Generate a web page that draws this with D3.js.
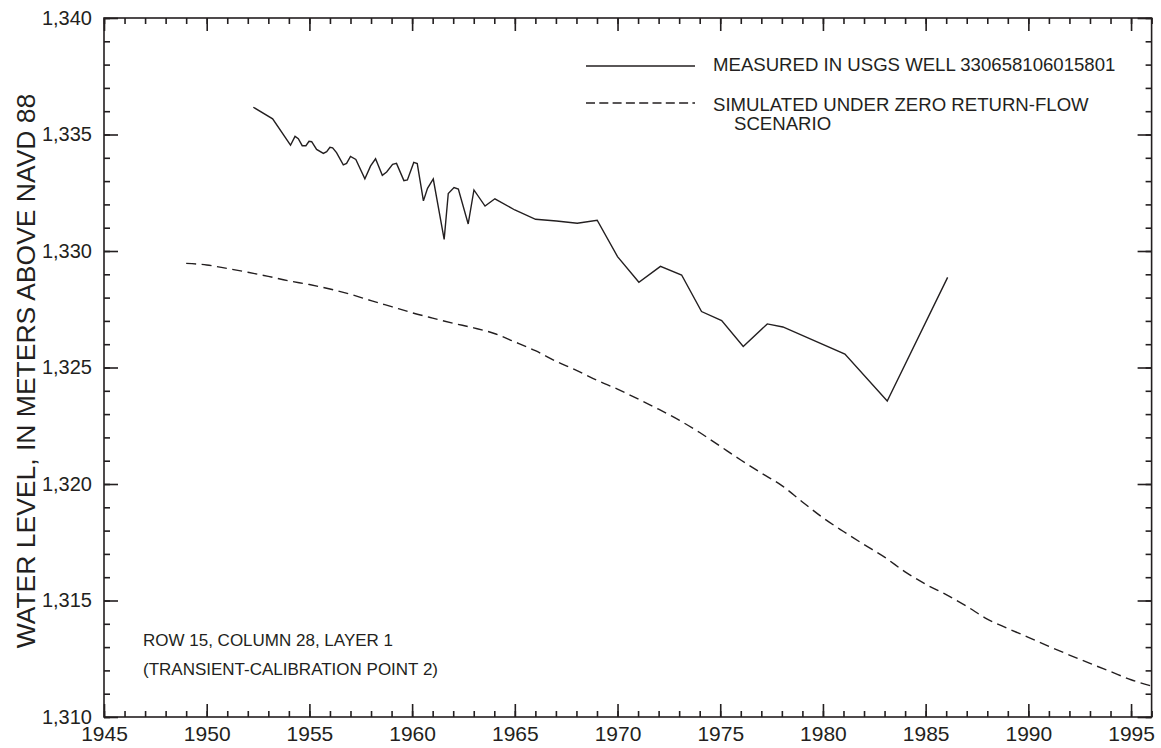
<!DOCTYPE html>
<html>
<head>
<meta charset="utf-8">
<script src="https://cdn.jsdelivr.net/npm/d3@7"></script>
<style>
  html, body { margin: 0; padding: 0; background: #fff; }
  svg { display: block; font-family: "Liberation Sans", Arial, Helvetica, sans-serif; }
</style>
</head>
<body>
<svg id="chart" width="1161" height="748"></svg>
<script>
// ---- Data ----
const measuredYears = [1952.27, 1953.21, 1954.08, 1954.30, 1954.46, 1954.65, 1954.83, 1954.98, 1955.11, 1955.35,
  1955.68, 1955.84, 1956.00, 1956.13, 1956.32, 1956.65, 1956.81, 1957.00, 1957.26, 1957.70,
  1957.98, 1958.22, 1958.55, 1958.76, 1959.05, 1959.24, 1959.60, 1959.77, 1960.08, 1960.25,
  1960.55, 1960.75, 1961.03, 1961.56, 1961.76, 1962.04, 1962.25, 1962.73, 1963.01, 1963.55,
  1964.03, 1965.00, 1966.01, 1967.03, 1968.04, 1969.01, 1970.00, 1971.04, 1972.09, 1973.12,
  1974.09, 1975.07, 1976.12, 1977.29, 1978.05, 1981.07, 1983.13, 1986.07];
const measuredLevels = [1336.17, 1335.67, 1334.54, 1334.92, 1334.82, 1334.52, 1334.52, 1334.71, 1334.69, 1334.36,
  1334.19, 1334.26, 1334.45, 1334.43, 1334.22, 1333.70, 1333.76, 1334.06, 1333.93, 1333.10,
  1333.65, 1333.96, 1333.25, 1333.39, 1333.72, 1333.76, 1333.02, 1333.05, 1333.80, 1333.75,
  1332.15, 1332.69, 1333.09, 1330.50, 1332.47, 1332.72, 1332.66, 1331.16, 1332.62, 1331.93,
  1332.24, 1331.76, 1331.36, 1331.29, 1331.19, 1331.32, 1329.76, 1328.66, 1329.34, 1328.97,
  1327.40, 1327.01, 1325.90, 1326.87, 1326.74, 1325.58, 1323.56, 1328.87];

const simulatedYears = [1949, 1950, 1951, 1952, 1953, 1954, 1955, 1956, 1957, 1958, 1959, 1960,
  1961, 1962, 1963, 1964, 1965, 1966, 1967, 1968, 1969, 1970, 1971, 1972, 1973, 1974, 1975,
  1976, 1977, 1978, 1979, 1980, 1981, 1982, 1983, 1984, 1985, 1986, 1987, 1988, 1989, 1990,
  1991, 1992, 1993, 1994, 1995, 1996];
const simulatedLevels = [1329.47, 1329.40, 1329.25, 1329.09, 1328.91, 1328.72, 1328.56, 1328.37, 1328.14, 1327.87,
  1327.61, 1327.35, 1327.12, 1326.90, 1326.70, 1326.46, 1326.10, 1325.72, 1325.27, 1324.88,
  1324.45, 1324.07, 1323.65, 1323.21, 1322.74, 1322.21, 1321.62, 1321.03, 1320.47, 1319.93,
  1319.23, 1318.55, 1317.96, 1317.40, 1316.86, 1316.23, 1315.70, 1315.25, 1314.75, 1314.20,
  1313.80, 1313.42, 1313.03, 1312.66, 1312.30, 1311.95, 1311.60, 1311.33];

const xMajorTicks = [1945, 1950, 1955, 1960, 1965, 1970, 1975, 1980, 1985, 1990, 1995];
const yMajorTicks = [1310, 1315, 1320, 1325, 1330, 1335, 1340];
const legendLabels = ["MEASURED IN USGS WELL 330658106015801", "SIMULATED UNDER ZERO RETURN-FLOW", "SCENARIO"];
const noteLines = ["ROW 15, COLUMN 28, LAYER 1", "(TRANSIENT-CALIBRATION POINT 2)"];
const yTitle = "WATER LEVEL, IN METERS ABOVE NAVD 88";

// ---- Layout ----
const plotL = 104, plotR = 1151.6, plotT = 18, plotB = 717;
const ink = "#231f20";

const svg = d3.select("#chart");
const x = d3.scaleLinear().domain([1945, 1996]).range([plotL, plotR]);
const y = d3.scaleLinear().domain([1310, 1340]).range([plotB, plotT]);

const xMinor = d3.range(1945, 1997, 1);
const yMinor = d3.range(1310, 1341, 1);

function styleAxis(g) {
  g.select(".domain").remove();
  g.selectAll("line").attr("stroke", ink).attr("stroke-width", 1.6);
  g.selectAll("text").attr("fill", ink);
}

// minor ticks
svg.append("g").attr("transform", `translate(0,${plotB})`)
  .call(d3.axisBottom(x).tickValues(xMinor).tickSize(-6).tickFormat(""))
  .call(styleAxis);
svg.append("g").attr("transform", `translate(0,${plotT})`)
  .call(d3.axisTop(x).tickValues(xMinor).tickSize(-6).tickFormat(""))
  .call(styleAxis);
svg.append("g").attr("transform", `translate(${plotL},0)`)
  .call(d3.axisLeft(y).tickValues(yMinor).tickSize(-6).tickFormat(""))
  .call(styleAxis);
svg.append("g").attr("transform", `translate(${plotR},0)`)
  .call(d3.axisRight(y).tickValues(yMinor).tickSize(-6).tickFormat(""))
  .call(styleAxis);

// major ticks with labels
svg.append("g").attr("transform", `translate(0,${plotB})`)
  .call(d3.axisBottom(x).tickValues(xMajorTicks).tickSize(-13).tickPadding(9).tickFormat(d3.format("d")))
  .call(styleAxis)
  .call(g => g.selectAll("text").attr("font-size", 21).attr("font-family", "Liberation Sans, Arial, sans-serif"));
svg.append("g").attr("transform", `translate(0,${plotT})`)
  .call(d3.axisTop(x).tickValues(xMajorTicks).tickSize(-13).tickFormat(""))
  .call(styleAxis);
svg.append("g").attr("transform", `translate(${plotL},0)`)
  .call(d3.axisLeft(y).tickValues(yMajorTicks).tickSize(-14).tickPadding(12).tickFormat(d3.format(",")))
  .call(styleAxis)
  .call(g => g.selectAll("text").attr("font-size", 20).attr("font-family", "Liberation Sans, Arial, sans-serif"));
svg.append("g").attr("transform", `translate(${plotR},0)`)
  .call(d3.axisRight(y).tickValues(yMajorTicks).tickSize(-14).tickFormat(""))
  .call(styleAxis);

// frame
svg.append("rect")
  .attr("x", plotL).attr("y", plotT)
  .attr("width", plotR - plotL).attr("height", plotB - plotT)
  .attr("fill", "none").attr("stroke", ink).attr("stroke-width", 1.6);

// clip
svg.append("clipPath").attr("id", "plotclip")
  .append("rect").attr("x", plotL).attr("y", plotT).attr("width", plotR - plotL).attr("height", plotB - plotT);

const line = d3.line().x(d => x(d[0])).y(d => y(d[1]));

const simData = simulatedYears.map((yr, i) => [yr, simulatedLevels[i]]);
const measData = measuredYears.map((yr, i) => [yr, measuredLevels[i]]);

svg.append("path")
  .attr("clip-path", "url(#plotclip)")
  .attr("d", d3.line().curve(d3.curveMonotoneX).x(d => x(d[0])).y(d => y(d[1]))(simData))
  .attr("fill", "none").attr("stroke", ink).attr("stroke-width", 1.4)
  .attr("stroke-dasharray", "10,5.5");

svg.append("path")
  .attr("clip-path", "url(#plotclip)")
  .attr("d", line(measData))
  .attr("fill", "none").attr("stroke", ink).attr("stroke-width", 1.4)
  .attr("stroke-linejoin", "miter");

// legend
const lg = svg.append("g");
lg.append("line").attr("x1", 586).attr("x2", 695).attr("y1", 66).attr("y2", 66)
  .attr("stroke", ink).attr("stroke-width", 1.5);
lg.append("line").attr("x1", 586).attr("x2", 695).attr("y1", 103).attr("y2", 103)
  .attr("stroke", ink).attr("stroke-width", 1.4).attr("stroke-dasharray", "9,4.3");
lg.append("text").attr("x", 713).attr("y", 71).text(legendLabels[0]);
lg.append("text").attr("x", 713).attr("y", 110.5).text(legendLabels[1]);
lg.append("text").attr("x", 734).attr("y", 129.5).text(legendLabels[2]);
lg.selectAll("text").attr("font-size", 18.6).attr("fill", ink);

// note
svg.selectAll("text.note").data(noteLines).enter().append("text")
  .attr("class", "note")
  .attr("x", 143).attr("y", (d, i) => 646 + i * 29)
  .attr("font-size", 17).attr("fill", ink)
  .text(d => d);

// y title
svg.append("text")
  .attr("transform", "translate(35,371) rotate(-90)")
  .attr("text-anchor", "middle")
  .attr("font-size", 26.5).attr("fill", ink)
  .text(yTitle);
</script>
</body>
</html>
